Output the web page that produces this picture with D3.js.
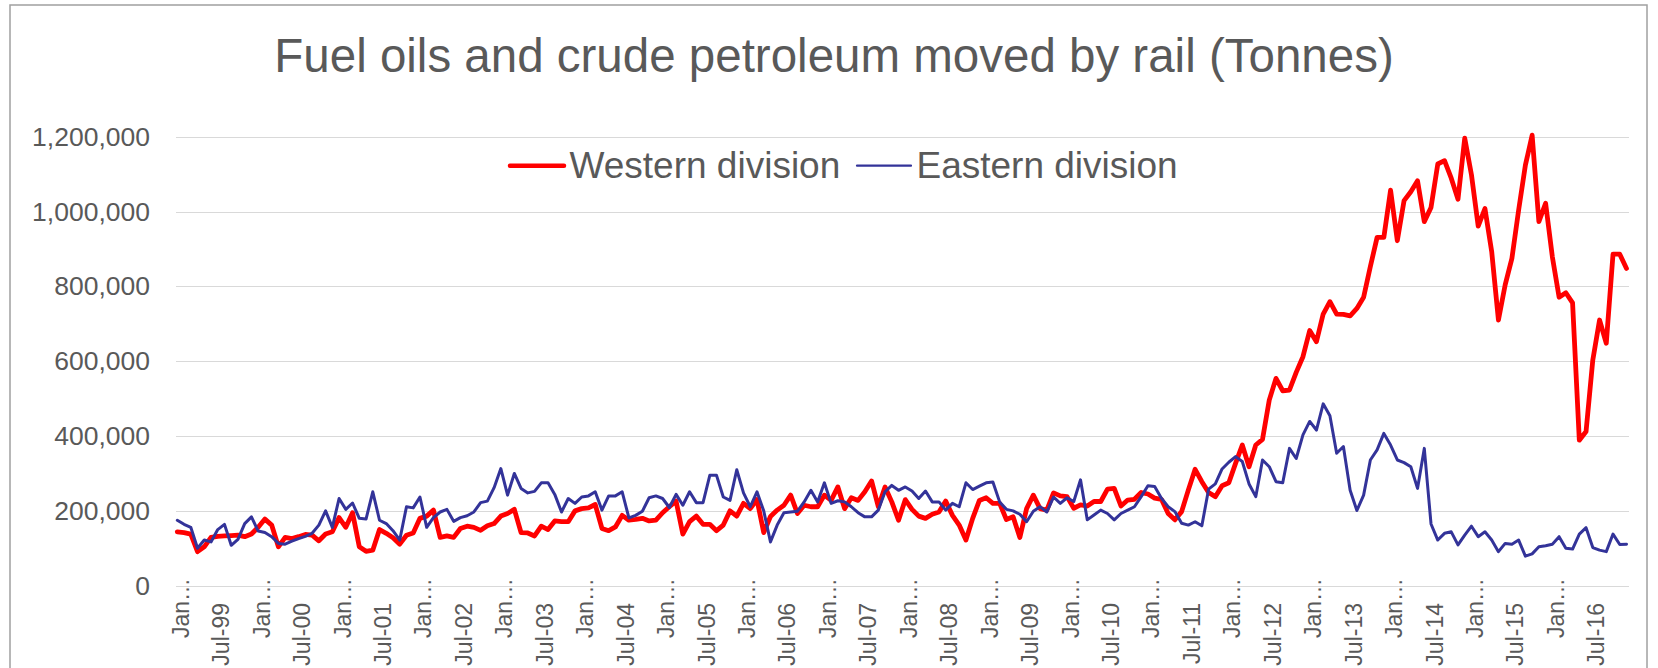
<!doctype html>
<html>
  <head>
    <meta charset="utf-8">
    <script src="https://d3js.org/d3.v7.min.js"></script>
    <style>
      body { margin: 0; background: #fff; }
      .grid line { stroke: #d9d9d9; stroke-width: 1; shape-rendering: crispEdges; }
      .grid path, .axis path { stroke-width: 0; }
      text { font-family: "Liberation Sans", Arial, sans-serif; fill: #595959; }
    </style>
  </head>
  <body>
    <script>
    // monthly categories Jan-1999 .. Dec-2016
    var firstMonth = new Date(1999, 0, 1);
    var endMonth = new Date(2017, 0, 1);

    var xTickLabels = ['Jan…', 'Jul-99', 'Jan…', 'Jul-00', 'Jan…', 'Jul-01', 'Jan…', 'Jul-02',
      'Jan…', 'Jul-03', 'Jan…', 'Jul-04', 'Jan…', 'Jul-05', 'Jan…', 'Jul-06',
      'Jan…', 'Jul-07', 'Jan…', 'Jul-08', 'Jan…', 'Jul-09', 'Jan…', 'Jul-10',
      'Jan…', 'Jul-11', 'Jan…', 'Jul-12', 'Jan…', 'Jul-13', 'Jan…', 'Jul-14',
      'Jan…', 'Jul-15', 'Jan…', 'Jul-16'];

    var yTicks = [0, 200000, 400000, 600000, 800000, 1000000, 1200000];

    var seriesNames = ['Western division', 'Eastern division'];
    var seriesColors = ['#ff0000', '#333399'];

    var western = [
      144000, 142000, 138000, 91000, 104000, 129000, 132000, 133000, 134000, 135000, 131000, 138000,
      156000, 178000, 162000, 104000, 129000, 126000, 131000, 137000, 135000, 120000, 138000, 144000,
      182000, 156000, 195000, 104000, 92000, 95000, 150000, 140000, 128000, 111000, 135000, 141000,
      180000, 186000, 202000, 129000, 133000, 129000, 153000, 159000, 156000, 148000, 160000, 166000,
      186000, 193000, 204000, 142000, 141000, 133000, 159000, 150000, 173000, 171000, 171000, 200000,
      206000, 208000, 217000, 153000, 147000, 157000, 188000, 175000, 177000, 180000, 173000, 175000,
      195000, 211000, 226000, 138000, 171000, 186000, 164000, 164000, 147000, 162000, 200000, 186000,
      220000, 206000, 230000, 142000, 185000, 202000, 215000, 242000, 193000, 215000, 211000, 211000,
      242000, 228000, 264000, 206000, 235000, 228000, 251000, 280000, 211000, 264000, 224000, 175000,
      230000, 204000, 186000, 180000, 191000, 197000, 226000, 188000, 162000, 122000, 180000, 228000,
      235000, 220000, 220000, 177000, 184000, 129000, 206000, 242000, 206000, 202000, 248000, 240000,
      238000, 207000, 216000, 213000, 225000, 225000, 258000, 260000, 213000, 229000, 231000, 249000,
      245000, 234000, 231000, 193000, 176000, 198000, 256000, 311000, 278000, 249000, 238000, 267000,
      275000, 327000, 376000, 318000, 376000, 391000, 496000, 554000, 521000, 523000, 570000, 612000,
      682000, 652000, 726000, 759000, 726000, 725000, 721000, 741000, 771000, 853000, 931000, 931000,
      1057000, 922000, 1029000, 1053000, 1082000, 973000, 1011000, 1127000, 1136000, 1089000, 1033000, 1196000,
      1098000, 961000, 1008000, 893000, 710000, 804000, 875000, 1004000, 1124000, 1204000, 973000, 1022000,
      879000, 771000, 783000, 756000, 389000, 412000, 603000, 710000, 648000, 886000, 886000, 848000
    ];

    var eastern = [
      175000, 164000, 156000, 100000, 122000, 117000, 150000, 164000, 108000, 124000, 166000, 184000,
      146000, 142000, 131000, 113000, 111000, 119000, 126000, 132000, 140000, 162000, 200000, 156000,
      233000, 204000, 221000, 180000, 178000, 251000, 175000, 166000, 147000, 122000, 211000, 208000,
      237000, 156000, 182000, 197000, 204000, 172000, 182000, 187000, 197000, 222000, 226000, 262000,
      313000, 242000, 300000, 260000, 248000, 252000, 275000, 275000, 244000, 197000, 233000, 220000,
      237000, 240000, 251000, 202000, 240000, 240000, 251000, 181000, 188000, 199000, 235000, 240000,
      233000, 209000, 244000, 215000, 251000, 222000, 222000, 295000, 295000, 237000, 228000, 310000,
      248000, 211000, 251000, 200000, 117000, 162000, 195000, 197000, 199000, 224000, 255000, 224000,
      275000, 220000, 227000, 224000, 211000, 195000, 184000, 184000, 202000, 251000, 268000, 255000,
      264000, 253000, 233000, 253000, 224000, 224000, 202000, 220000, 211000, 275000, 257000, 266000,
      275000, 277000, 224000, 204000, 200000, 191000, 171000, 199000, 211000, 197000, 237000, 220000,
      235000, 225000, 283000, 176000, 189000, 202000, 193000, 176000, 193000, 202000, 211000, 238000,
      267000, 265000, 234000, 211000, 198000, 167000, 162000, 171000, 160000, 258000, 272000, 312000,
      330000, 345000, 332000, 272000, 238000, 336000, 318000, 278000, 275000, 367000, 340000, 403000,
      439000, 416000, 486000, 454000, 354000, 372000, 255000, 201000, 242000, 336000, 363000, 407000,
      376000, 336000, 329000, 318000, 260000, 367000, 165000, 122000, 140000, 144000, 109000, 135000,
      159000, 131000, 144000, 122000, 91000, 113000, 111000, 122000, 79000, 85000, 104000, 107000,
      111000, 131000, 100000, 98000, 138000, 155000, 102000, 95000, 91000, 138000, 110000, 111000
    ];

    var width = 1658;
    var height = 668;

    var plot = { left: 176, right: 1629, firstX: 177.3, lastX: 1626.5, top: 136.7, bottom: 585.7 };

    var months = d3.timeMonth.range(firstMonth, endMonth);
    var monthKey = d3.timeFormat('%Y-%m');

    var svg = d3.select('body')
      .append('svg')
      .attr('width', width)
      .attr('height', height);

    // chart frame
    svg.append('rect')
      .attr('x', 10)
      .attr('y', 5)
      .attr('width', 1637)
      .attr('height', 700)
      .attr('fill', '#fff')
      .attr('stroke', '#a0a0a0')
      .attr('stroke-width', 1.5);

    var x = d3.scalePoint()
      .domain(months.map(monthKey))
      .range([plot.firstX, plot.lastX]);

    var y = d3.scaleLinear()
      .domain([0, 1200000])
      .range([plot.bottom, plot.top]);

    // gridlines
    svg.append('g')
      .attr('class', 'grid')
      .attr('transform', 'translate(' + plot.left + ',0)')
      .call(d3.axisLeft(y)
        .tickValues(yTicks)
        .tickSize(-(plot.right - plot.left))
        .tickFormat(''));

    // y labels
    var yAxis = svg.append('g')
      .attr('class', 'axis')
      .attr('transform', 'translate(' + plot.left + ',0)')
      .call(d3.axisLeft(y)
        .tickValues(yTicks)
        .tickSize(0)
        .tickPadding(26)
        .tickFormat(d3.format(',')));
    yAxis.attr('font-family', null).attr('font-size', null);
    yAxis.selectAll('text')
      .attr('font-size', '26.5px')
      .attr('fill', '#595959');

    // x labels, rotated
    var tickMonths = xTickLabels.map(function(d, i) { return monthKey(months[i * 6]); });
    var xAxis = svg.append('g')
      .attr('class', 'axis')
      .call(d3.axisBottom(x)
        .tickValues(tickMonths)
        .tickSize(0)
        .tickFormat(function(d, i) { return xTickLabels[i]; }));
    xAxis.attr('font-family', null).attr('font-size', null);
    xAxis.selectAll('text')
      .attr('x', null)
      .attr('y', null)
      .attr('dy', null)
      .attr('text-anchor', 'end')
      .attr('font-size', '23px')
      .attr('fill', '#595959')
      .attr('transform', function(d, i) {
        var top = (i % 2 === 0) ? 578 : 603;
        return 'translate(11,' + top + ') rotate(-90)';
      });

    // series lines
    var line = d3.line()
      .x(function(d, i) { return x(monthKey(months[i])); })
      .y(function(d) { return y(d); });

    var seriesData = [western, eastern];
    var seriesWidths = [4.8, 3];
    var legendWidths = [4.5, 2.2];

    svg.selectAll('.series')
      .data(seriesData)
      .enter()
      .append('path')
      .attr('class', 'series')
      .attr('fill', 'none')
      .attr('stroke', function(d, i) { return seriesColors[i]; })
      .attr('stroke-width', function(d, i) { return seriesWidths[i]; })
      .attr('stroke-linejoin', 'round')
      .attr('stroke-linecap', 'round')
      .attr('d', line);

    // title
    svg.append('text')
      .attr('x', 834)
      .attr('y', 71.7)
      .attr('text-anchor', 'middle')
      .style('font-size', '47.5px')
      .text('Fuel oils and crude petroleum moved by rail (Tonnes)');

    // legend
    var legendX = [510, 857];
    var legend = svg.selectAll('.legend')
      .data(seriesNames)
      .enter()
      .append('g')
      .attr('class', 'legend')
      .attr('transform', function(d, i) { return 'translate(' + legendX[i] + ',0)'; });

    legend.append('line')
      .attr('x1', 0)
      .attr('x2', 54)
      .attr('y1', 165.7)
      .attr('y2', 165.7)
      .attr('stroke', function(d, i) { return seriesColors[i]; })
      .attr('stroke-width', function(d, i) { return legendWidths[i]; })
      .attr('stroke-linecap', 'round');

    legend.append('text')
      .attr('x', 59.5)
      .attr('y', 178.3)
      .style('font-size', '37px')
      .text(function(d) { return d; });
    </script>
  </body>
</html>
